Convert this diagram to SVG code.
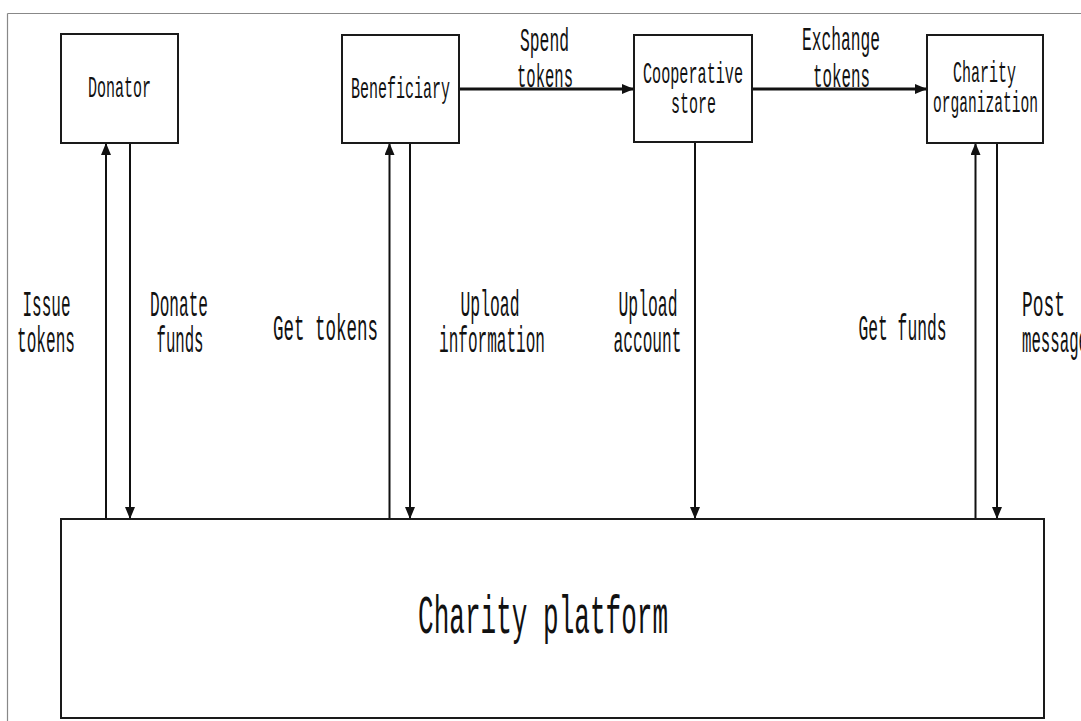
<svg xmlns="http://www.w3.org/2000/svg" width="1081" height="721" viewBox="0 0 1081 721">
<style>
.box{fill:#fff;stroke:#1a1a1a;stroke-width:2}
.t{font-family:"Liberation Mono",monospace;fill:#111;text-anchor:middle}
.side{font-size:36px}
.top{font-size:33px}
.lbl{font-size:30px}
.big{font-size:54px}
.v{stroke:#111;stroke-width:2;fill:none}
.h{stroke:#111;stroke-width:3;fill:none}
</style>
<defs>
<marker id="ah" markerUnits="userSpaceOnUse" markerWidth="12" markerHeight="10" refX="12" refY="5" orient="auto">
<path d="M0,0 L12,5 L0,10 Z" fill="#111"/>
</marker>
</defs>
<rect width="1081" height="721" fill="#fff"/>
<g id="frame">
<path d="M7.5,13.5 H1081 M7.5,13.5 V721" stroke="#888" stroke-width="1.2" fill="none"/>
</g>
<g id="connectors">
<line class="v" x1="106" y1="519" x2="106" y2="143" marker-end="url(#ah)"/>
<line class="v" x1="130" y1="143" x2="130" y2="519" marker-end="url(#ah)"/>
<line class="v" x1="389.5" y1="519" x2="389.5" y2="143" marker-end="url(#ah)"/>
<line class="v" x1="410" y1="143" x2="410" y2="519" marker-end="url(#ah)"/>
<line class="v" x1="695" y1="142" x2="695" y2="519" marker-end="url(#ah)"/>
<line class="v" x1="975.5" y1="519" x2="975.5" y2="143" marker-end="url(#ah)"/>
<line class="v" x1="997" y1="143" x2="997" y2="519" marker-end="url(#ah)"/>
<line class="h" x1="459" y1="89" x2="634" y2="89" marker-end="url(#ah)"/>
<line class="h" x1="752" y1="89" x2="927" y2="89" marker-end="url(#ah)"/>
<text class="t side" x="46.5" y="316" textLength="48" lengthAdjust="spacingAndGlyphs">Issue</text>
<text class="t side" x="46" y="352" textLength="58" lengthAdjust="spacingAndGlyphs">tokens</text>
<text class="t side" x="179" y="316" textLength="58" lengthAdjust="spacingAndGlyphs">Donate</text>
<text class="t side" x="180" y="352" textLength="47" lengthAdjust="spacingAndGlyphs">funds</text>
<text class="t side" x="325.5" y="340" textLength="105" lengthAdjust="spacingAndGlyphs">Get tokens</text>
<text class="t side" x="490" y="316" textLength="59" lengthAdjust="spacingAndGlyphs">Upload</text>
<text class="t side" x="492" y="352" textLength="106" lengthAdjust="spacingAndGlyphs">information</text>
<text class="t side" x="648" y="316" textLength="59" lengthAdjust="spacingAndGlyphs">Upload</text>
<text class="t side" x="647.5" y="352" textLength="68" lengthAdjust="spacingAndGlyphs">account</text>
<text class="t side" x="902.5" y="340" textLength="88" lengthAdjust="spacingAndGlyphs">Get funds</text>
<text class="t side" x="1022" y="316" textLength="43" lengthAdjust="spacingAndGlyphs" style="text-anchor:start">Post</text>
<text class="t side" x="1022" y="352" textLength="66" lengthAdjust="spacingAndGlyphs" style="text-anchor:start">message</text>
<text class="t top" x="544.5" y="50.5" textLength="49" lengthAdjust="spacingAndGlyphs">Spend</text>
<text class="t top" x="545" y="87" textLength="56" lengthAdjust="spacingAndGlyphs">tokens</text>
<text class="t top" x="841" y="50" textLength="78" lengthAdjust="spacingAndGlyphs">Exchange</text>
<text class="t top" x="841.5" y="87" textLength="57" lengthAdjust="spacingAndGlyphs">tokens</text>
</g>
<g id="donator">
<rect class="box" x="61" y="34" width="117" height="109"/>
<text class="t lbl" x="119.5" y="97" textLength="63" lengthAdjust="spacingAndGlyphs">Donator</text>
</g>
<g id="beneficiary">
<rect class="box" x="342" y="35" width="117" height="108"/>
<text class="t lbl" x="400.5" y="98" textLength="99" lengthAdjust="spacingAndGlyphs">Beneficiary</text>
</g>
<g id="cooperative-store">
<rect class="box" x="634" y="35" width="118" height="107"/>
<text class="t lbl" x="693" y="83" textLength="100" lengthAdjust="spacingAndGlyphs">Cooperative</text>
<text class="t lbl" x="693.5" y="113" textLength="45" lengthAdjust="spacingAndGlyphs">store</text>
</g>
<g id="charity-organization">
<rect class="box" x="927" y="35" width="116" height="108"/>
<text class="t lbl" x="984.5" y="82" textLength="63" lengthAdjust="spacingAndGlyphs">Charity</text>
<text class="t lbl" x="985.5" y="112" textLength="105" lengthAdjust="spacingAndGlyphs">organization</text>
</g>
<g id="charity-platform">
<rect class="box" x="61" y="519" width="983" height="199"/>
<text class="t big" x="543" y="633" textLength="250" lengthAdjust="spacingAndGlyphs">Charity platform</text>
</g>
</svg>
